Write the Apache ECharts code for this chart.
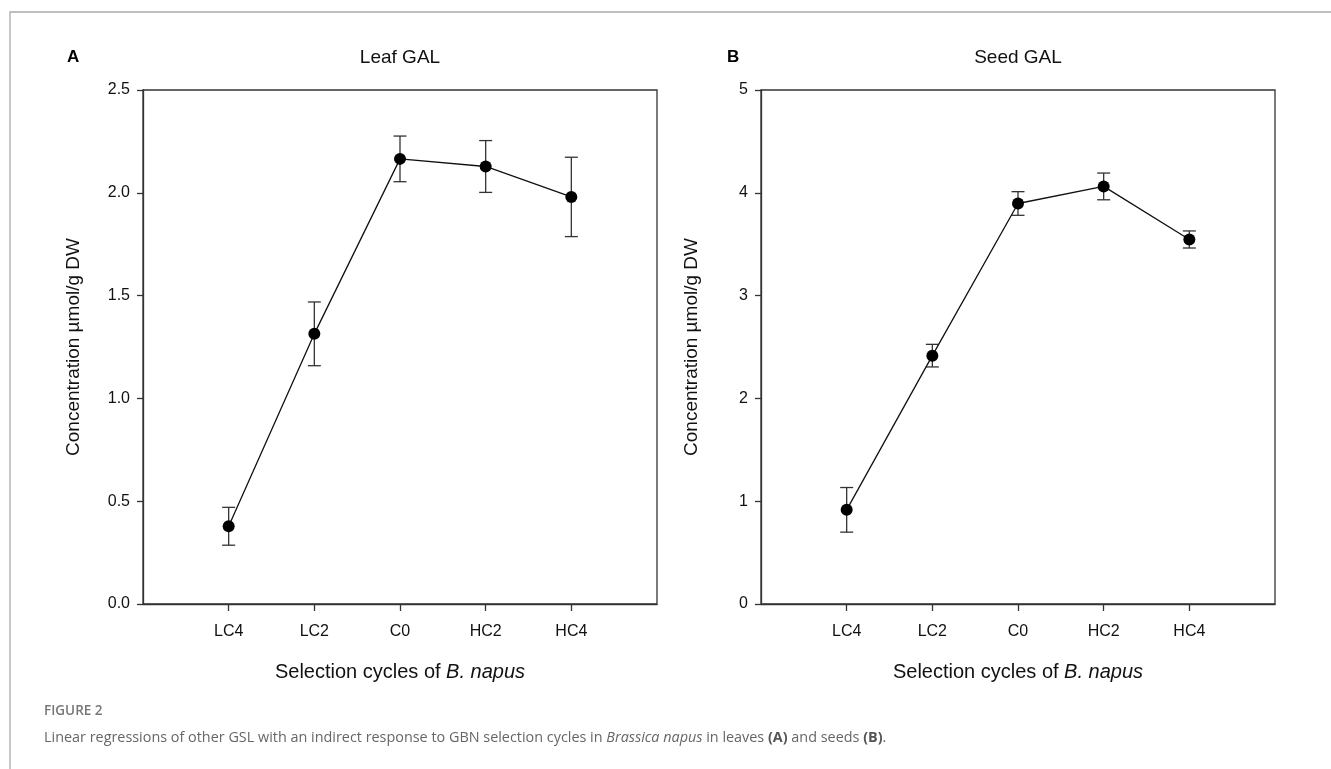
<!DOCTYPE html>
<html>
<head>
<meta charset="utf-8">
<script src="https://cdn.jsdelivr.net/npm/echarts@6/dist/echarts.min.js"></script>
<style>
html,body{margin:0;padding:0;background:#fff;}
#chart{width:1331px;height:769px;}
</style>
</head>
<body>
<div id="chart"></div>
<script>
const categories = ['LC4', 'LC2', 'C0', 'HC2', 'HC4'];
const leafMean = [0.378, 1.314, 2.165, 2.128, 1.980];
const leafErr  = [0.092, 0.155, 0.111, 0.126, 0.193];
const seedMean = [0.916, 2.416, 3.896, 4.062, 3.546];
const seedErr  = [0.217, 0.110, 0.115, 0.130, 0.083];
const leafTicks = [0, 0.5, 1.0, 1.5, 2.0, 2.5];
const seedTicks = [0, 1, 2, 3, 4, 5];

const FONT = 'Liberation Sans, Arial, sans-serif';
const chart = echarts.init(document.getElementById('chart'));

function pts(mean){ return mean.map((v,i)=>[i+1, v]); }
function errs(mean, err){ return mean.map((v,i)=>[i+1, v-err[i], v+err[i]]); }

function errRender(params, api){
  const x = api.value(0);
  const lo = api.coord([x, api.value(1)]);
  const hi = api.coord([x, api.value(2)]);
  const hw = 6.5;
  const st = {stroke:'#333', lineWidth:1.3};
  return {type:'group', children:[
    {type:'line', shape:{x1:lo[0], y1:lo[1], x2:hi[0], y2:hi[1]}, style:st},
    {type:'line', shape:{x1:lo[0]-hw, y1:lo[1], x2:lo[0]+hw, y2:lo[1]}, style:st},
    {type:'line', shape:{x1:hi[0]-hw, y1:hi[1], x2:hi[0]+hw, y2:hi[1]}, style:st}
  ]};
}

function xAxis(idx){
  return {
    type:'value', gridIndex:idx, min:0, max:6, interval:1,
    axisLine:{lineStyle:{color:'#333', width:1.3}},
    axisTick:{show:true, length:7, customValues:[1,2,3,4,5], lineStyle:{color:'#333', width:1.3}},
    axisLabel:{customValues:[1,2,3,4,5], formatter:v=>categories[v-1]||'', color:'#111', fontFamily:FONT, fontSize:16, margin:20},
    splitLine:{show:false},
    name:'Selection cycles of {i|B. napus}', nameLocation:'middle', nameGap:58,
    nameTextStyle:{color:'#111', fontFamily:FONT, fontSize:20, rich:{i:{fontStyle:'italic', fontFamily:FONT, fontSize:20, color:'#111'}}}
  };
}
function yAxis(idx, ticks, dec){
  return {
    type:'value', gridIndex:idx, min:ticks[0], max:ticks[ticks.length-1], interval:ticks[1]-ticks[0],
    axisLine:{show:true, lineStyle:{color:'#333', width:1.3}},
    axisTick:{show:true, inside:false, length:6, lineStyle:{color:'#333', width:1.3}},
    axisLabel:{formatter:v=>v.toFixed(dec), color:'#111', fontFamily:FONT, fontSize:16, margin:13},
    splitLine:{show:false},
    name:'Concentration µmol/g DW', nameLocation:'middle', nameGap:60,
    nameTextStyle:{color:'#111', fontFamily:FONT, fontSize:19}
  };
}
function lineSeries(idx, mean){
  return {type:'line', xAxisIndex:idx, yAxisIndex:idx, data:pts(mean), symbol:'circle', symbolSize:12,
    itemStyle:{color:'#000'}, lineStyle:{color:'#111', width:1.3}, z:3, animation:false};
}
function errSeries(idx, mean, err){
  return {type:'custom', xAxisIndex:idx, yAxisIndex:idx, data:errs(mean, err), renderItem:errRender,
    encode:{x:0, y:[1,2]}, z:2, animation:false};
}

chart.setOption({
  animation:false,
  backgroundColor:'#fff',
  grid:[
    {left:143, top:90, width:514, height:514, show:true, borderColor:'#333', borderWidth:1.3, backgroundColor:'transparent'},
    {left:761, top:90, width:514, height:514, show:true, borderColor:'#333', borderWidth:1.3, backgroundColor:'transparent'}
  ],
  xAxis:[xAxis(0), xAxis(1)],
  yAxis:[yAxis(0, leafTicks, 1), yAxis(1, seedTicks, 0)],
  series:[
    errSeries(0, leafMean, leafErr), lineSeries(0, leafMean),
    errSeries(1, seedMean, seedErr), lineSeries(1, seedMean)
  ],
  graphic:[
    {type:'rect', shape:{x:10, y:12, width:1340, height:800}, style:{fill:'none', stroke:'#aaa', lineWidth:1.3}, silent:true, z:-1},
    {type:'text', left:67, top:49, style:{text:'A', font:'bold 17px '+FONT, fill:'#000'}},
    {type:'text', left:727, top:49, style:{text:'B', font:'bold 17px '+FONT, fill:'#000'}},
    {type:'text', x:400, y:58, style:{text:'Leaf GAL', font:'19px '+FONT, fill:'#111', align:'center', verticalAlign:'middle'}},
    {type:'text', x:1018, y:58, style:{text:'Seed GAL', font:'19px '+FONT, fill:'#111', align:'center', verticalAlign:'middle'}},
    {type:'text', left:44, top:704, style:{text:'FIGURE 2', font:'600 13.5px Open Sans, sans-serif', fill:'#777'}},
    {type:'text', left:44, top:731, style:{
      text:'Linear regressions of other GSL with an indirect response to GBN selection cycles in {i|Brassica napus} in leaves {b|(A)} and seeds {b|(B)}.',
      font:'14.4px Open Sans, sans-serif', fill:'#666',
      rich:{i:{fontStyle:'italic', fontFamily:'Open Sans, sans-serif', fontSize:14.4, fill:'#666'},
            b:{fontWeight:'bold', fontFamily:'Open Sans, sans-serif', fontSize:14.4, fill:'#555'}}
    }}
  ]
});
</script>
</body>
</html>
